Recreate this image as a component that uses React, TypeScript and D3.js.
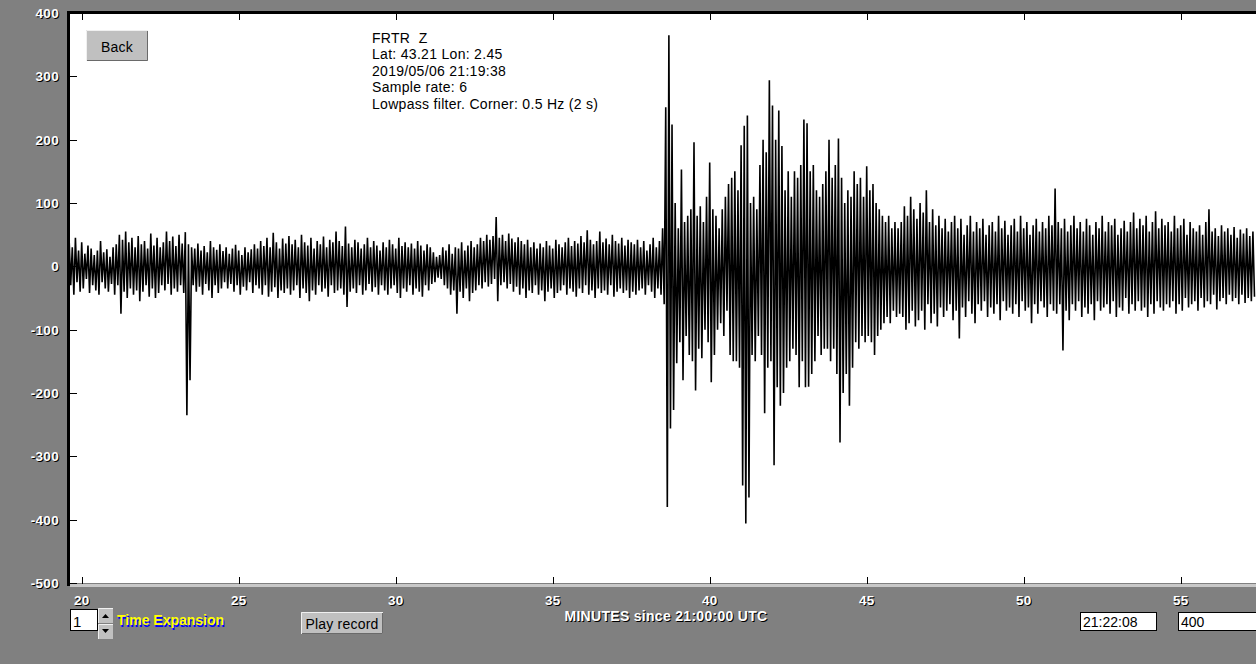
import React from 'react';
import * as d3 from 'd3';

// Seismogram envelope: per 0.1-minute bin, upper and lower peak (counts)
const T0 = 19.6;
const DT = 0.1;

const preHi = [
  42, 30, 45, 25, 38, 20, 33, 28, 18, 25,
  40, 22, 27, 15, 30, 35, 50, 42, 55, 38,
  45, 30, 48, 35, 40, 28, 52, 33, 45, 30,
  38, 55, 40, 47, 32, 50, 36, 54, 35, 30,
  28, 36, 25, 32, 22, 40, 30, 26, 35, 24,
  30, 20, 28, 34, 25, 18, 30, 22, 27, 35,
  28, 40, 32, 45, 30, 53, 38, 28, 44, 36,
  48, 35, 42, 30, 50, 38, 33, 45, 28, 40,
  35, 47, 30, 42, 38, 55, 40, 32, 63, 36,
  30, 42, 38, 28, 35, 45, 30, 40, 33, 25,
  38, 30, 42, 35, 28, 45, 32, 38, 30, 36,
  28, 40, 33, 25, 35, 30, 22, 15, 18, 30,
  25, 35, 20, 30, 28, 38, 25, 33, 40, 30,
  35, 45, 40, 50, 42, 48, 78, 45, 50, 40,
  52, 44, 38, 46, 40, 35, 42, 30, 38, 28,
  36, 30, 40, 33, 28, 42, 35, 30, 38, 45,
  32, 40, 36, 48, 38, 57, 42, 35, 40, 55,
  38, 44, 35, 50, 40, 36, 45, 33, 42, 38,
  35, 42,
];
const preLo = [
  -30, -45, -25, -40, -35, -20, -42, -30, -38, -45,
  -25, -35, -40, -28, -45, -30, -75, -40, -50, -35,
  -45, -38, -55, -40, -30, -48, -35, -50, -42, -30,
  -38, -28, -45, -35, -40, -30, -42, -235, -180, -30,
  -40, -32, -45, -28, -38, -50, -30, -42, -35, -25,
  -35, -28, -40, -30, -45, -32, -38, -25, -42, -30,
  -35, -45, -30, -48, -40, -33, -50, -38, -42, -35,
  -45, -38, -30, -50, -35, -42, -55, -38, -45, -30,
  -40, -35, -48, -30, -42, -38, -35, -45, -64, -40,
  -35, -42, -30, -45, -38, -28, -40, -33, -45, -30,
  -38, -45, -35, -30, -42, -50, -35, -40, -30, -45,
  -35, -40, -48, -30, -38, -28, -25, -18, -20, -30,
  -35, -45, -38, -75, -40, -50, -35, -55, -42, -38,
  -30, -35, -25, -32, -28, -20, -55, -30, -25, -35,
  -28, -40, -32, -45, -35, -50, -38, -42, -30, -45,
  -38, -55, -40, -35, -50, -42, -38, -30, -45, -35,
  -40, -48, -35, -42, -30, -45, -38, -50, -35, -42,
  -38, -45, -30, -48, -40, -35, -42, -38, -50, -40,
  -45, -38,
];
const eventHi = [
  30, 40, 25, 35, 45, 30, 40, 60,
  251, 365, 224, 100, 60, 153, 70, 80, 90, 196,
  80, 95, 70, 110, 164, 90, 80, 60, 90, 110,
  130, 140, 150, 120, 191, 222, 238, 100, 110, 90,
  160, 200, 180, 294, 254, 200, 246, 190, 120, 150,
  110, 150, 140, 160, 232, 226, 150, 160, 120, 110,
  130, 150, 200, 140, 160, 202, 140, 100, 120, 110,
  150, 130, 140, 110, 158, 120, 130, 100, 90, 80,
  70, 80, 60, 70, 60,
];
const eventLo = [
  -35, -45, -30, -40, -50, -35, -45, -60,
  -380, -256, -227, -153, -120, -180, -110, -140, -150, -196,
  -130, -145, -100, -120, -183, -140, -100, -90, -110, -70,
  -140, -150, -150, -160, -346, -406, -365, -140, -150, -110,
  -140, -232, -160, -150, -314, -191, -220, -200, -160, -150,
  -130, -140, -191, -150, -191, -190, -170, -150, -110, -140,
  -130, -130, -150, -130, -170, -278, -200, -170, -220, -160,
  -120, -130, -110, -120, -110, -120, -140, -110, -100, -90,
  -80, -90, -70, -80, -75,
];
const codaHi = [
  70, 95, 80, 110, 90,
  75, 100, 85, 120, 70, 90, 65, 80, 60, 75,
  55, 70, 80, 60, 75, 50, 65, 80, 55, 70,
  60, 75, 50, 65, 70, 55, 80, 60, 72, 50,
  65, 75, 55, 80, 60, 70, 50, 65, 75, 55,
  70, 60, 80, 65, 123, 70, 60, 75, 55, 65,
  80, 60, 70, 55, 75, 65, 50, 70, 60, 80,
  55, 70, 65, 75, 50, 60, 72, 55, 70, 85,
  60, 75, 65, 80, 55, 70, 87, 60, 75, 65,
  70, 55, 80, 60, 65, 75, 50, 70, 60, 55,
  65, 50, 70, 90, 55, 60, 48, 65, 55, 60,
  50, 62, 45, 58, 52, 60, 48, 55,
];
const codaLo = [
  -80, -100, -90, -70, -95,
  -85, -70, -100, -60, -90, -75, -95, -65, -80, -70,
  -60, -85, -70, -114, -65, -80, -55, -75, -90, -60,
  -70, -55, -80, -65, -75, -60, -85, -55, -70, -65,
  -75, -60, -80, -55, -70, -65, -90, -60, -75, -55,
  -65, -80, -60, -70, -75, -60, -133, -70, -85, -60,
  -70, -55, -80, -65, -75, -60, -85, -55, -70, -65,
  -60, -75, -55, -80, -65, -70, -50, -75, -60, -70,
  -55, -70, -65, -80, -60, -75, -55, -65, -70, -60,
  -65, -55, -75, -60, -70, -50, -65, -60, -55, -70,
  -50, -65, -55, -60, -45, -68, -55, -50, -60, -45,
  -55, -50, -60, -45, -58, -50, -55, -48,
];

const yTicks = [400, 300, 200, 100, 0, -100, -200, -300, -400, -500];
const xTicks = [20, 25, 30, 35, 40, 45, 50, 55];
const infoLines = [
  'FRTR  Z',
  'Lat: 43.21 Lon: 2.45',
  '2019/05/06 21:19:38',
  'Sample rate: 6',
  'Lowpass filter. Corner: 0.5 Hz (2 s)',
];
const axisTitle = 'MINUTES since 21:00:00 UTC';
const expansionValue = '1';
const expansionLabel = 'Time Expansion';
const timeBox = '21:22:08';
const scaleBox = '400';

const FONT = '"Liberation Sans", Arial, sans-serif';

function ShadowText(props: {
  x: number; y: number; text: string; anchor?: string; fill: string; shadow: string;
  dx?: number; dy?: number; size?: number; weight?: string; spacing?: number;
}) {
  const { x, y, text, anchor = 'start', fill, shadow, dx = 1, dy = 1, size = 13, weight = 'bold', spacing = 0 } = props;
  const common = {
    textAnchor: anchor as any,
    dominantBaseline: 'central' as any,
    fontFamily: FONT,
    fontSize: size,
    fontWeight: weight,
    letterSpacing: spacing,
  };
  return (
    <g>
      <text x={x + dx} y={y + dy} fill={shadow} {...common}>{text}</text>
      <text x={x} y={y} fill={fill} {...common}>{text}</text>
    </g>
  );
}

function Button(props: { x: number; y: number; w: number; h: number; label: string; size?: number }) {
  const { x, y, w, h, label, size = 14 } = props;
  return (
    <g>
      <rect x={x} y={y} width={w} height={h} fill="#c0c0c0" />
      <path d={`M${x + 0.5},${y + h} V${y + 0.5} H${x + w}`} stroke="#f0f0f0" fill="none" />
      <path d={`M${x + 1},${y + h - 0.5} H${x + w - 0.5} V${y + 1}`} stroke="#6a6a6a" fill="none" />
      <text x={x + w / 2} y={y + h / 2 + 1} textAnchor="middle" dominantBaseline="central"
        fontFamily={FONT} fontSize={size} fill="#000" letterSpacing={0.2}>{label}</text>
    </g>
  );
}

export default function App() {
  const W = 1256;
  const H = 664;
  const left = 70, top = 13, right = 1256, bottom = 583;
  const x = d3.scaleLinear().domain([20, 55]).range([81.7, 1180.7]);
  const y = d3.scaleLinear().domain([-500, 400]).range([bottom, top]);

  const hi = [...preHi, ...eventHi, ...codaHi];
  const lo = [...preLo, ...eventLo, ...codaLo];
  const pts: [number, number][] = [];
  hi.forEach((v, i) => {
    const t = T0 + i * DT;
    pts.push([x(t), y(v)]);
    pts.push([x(t + DT / 2), y(lo[i])]);
  });
  const trace = d3.line()(pts) || '';

  return (
    <div style={{ position: 'fixed', left: 0, top: 0, width: W, height: H }}>
      <svg width={W} height={H} style={{ display: 'block' }}>
        <defs>
          <clipPath id="plotClip">
            <rect x={left} y={top} width={right - left} height={bottom - top} />
          </clipPath>
        </defs>
        <rect x={0} y={0} width={W} height={H} fill="#808080" />
        <rect x={left} y={top} width={right - left} height={bottom - top} fill="#ffffff" />

        {/* trace */}
        <g clipPath="url(#plotClip)">
          <path d={trace} fill="none" stroke="#000" strokeWidth={1.6} strokeLinejoin="bevel" />
        </g>

        {/* frame */}
        <rect x={67} y={11} width={3} height={575} fill="#000" />
        <rect x={67} y={11} width={right - 67} height={3} fill="#000" />
        <rect x={70} y={584} width={right - 70} height={3} fill="#c8c8c8" />

        {/* y ticks */}
        {yTicks.map((v) => (
          <g key={'y' + v}>
            <line x1={70} x2={77} y1={Math.round(y(v)) + 0.5} y2={Math.round(y(v)) + 0.5} stroke="#000" />
            <ShadowText x={59} y={y(v) + 0.5} text={String(v)} anchor="end" fill="#ffffff" shadow="#000" size={13.5} spacing={0.3} />
          </g>
        ))}

        {/* x ticks */}
        {xTicks.map((v) => (
          <g key={'x' + v}>
            <line x1={Math.round(x(v)) + 0.5} x2={Math.round(x(v)) + 0.5} y1={14} y2={20} stroke="#000" />
            <line x1={Math.round(x(v)) + 0.5} x2={Math.round(x(v)) + 0.5} y1={577} y2={584} stroke="#000" />
            <ShadowText x={x(v)} y={600} text={String(v)} anchor="middle" fill="#ffffff" shadow="#000" size={13.5} spacing={0.3} />
          </g>
        ))}

        <ShadowText x={666} y={616} text={axisTitle} anchor="middle" fill="#ffffff" shadow="#000" size={14} spacing={0.3} />

        {/* info block */}
        {infoLines.map((l, i) => (
          <text key={i} x={372} y={43 + i * 16.4} fontFamily={FONT} fontSize={14} fill="#000"
            letterSpacing={0.3} style={{ whiteSpace: 'pre' }}>{l}</text>
        ))}

        {/* Back button */}
        <Button x={86} y={30} w={62} h={31} label="Back" size={14} />

        {/* time expansion control */}
        <rect x={70.5} y={609.5} width={27} height={21} fill="#fff" stroke="#000" />
        <text x={73} y={621} dominantBaseline="central" fontFamily={FONT} fontSize={15} fill="#000">{expansionValue}</text>
        <rect x={98} y={608} width={15} height={15} fill="#c0c0c0" />
        <path d="M98.5,623 V608.5 H113" stroke="#f0f0f0" fill="none" />
        <path d="M102,618 L105.5,614 L109,618 Z" fill="#000" />
        <rect x={98} y={624} width={15} height={15} fill="#c0c0c0" />
        <path d="M98.5,639 V624.5 H113" stroke="#f0f0f0" fill="none" />
        <path d="M102,629 L105.5,633 L109,629 Z" fill="#000" />
        <ShadowText x={117} y={620} text={expansionLabel} fill="#ffff00" shadow="#0000ff" dx={1} dy={2} size={14} weight="bold" />

        {/* Play record */}
        <Button x={301} y={612} w={82} h={22} label="Play record" size={14} />

        {/* right boxes */}
        <rect x={1080.5} y={612.5} width={76} height={18} fill="#fff" stroke="#000" />
        <text x={1083} y={622} dominantBaseline="central" fontFamily={FONT} fontSize={14} fill="#000">{timeBox}</text>
        <rect x={1178.5} y={612.5} width={90} height={18} fill="#fff" stroke="#000" />
        <text x={1181} y={622} dominantBaseline="central" fontFamily={FONT} fontSize={14} fill="#000">{scaleBox}</text>
      </svg>
    </div>
  );
}
